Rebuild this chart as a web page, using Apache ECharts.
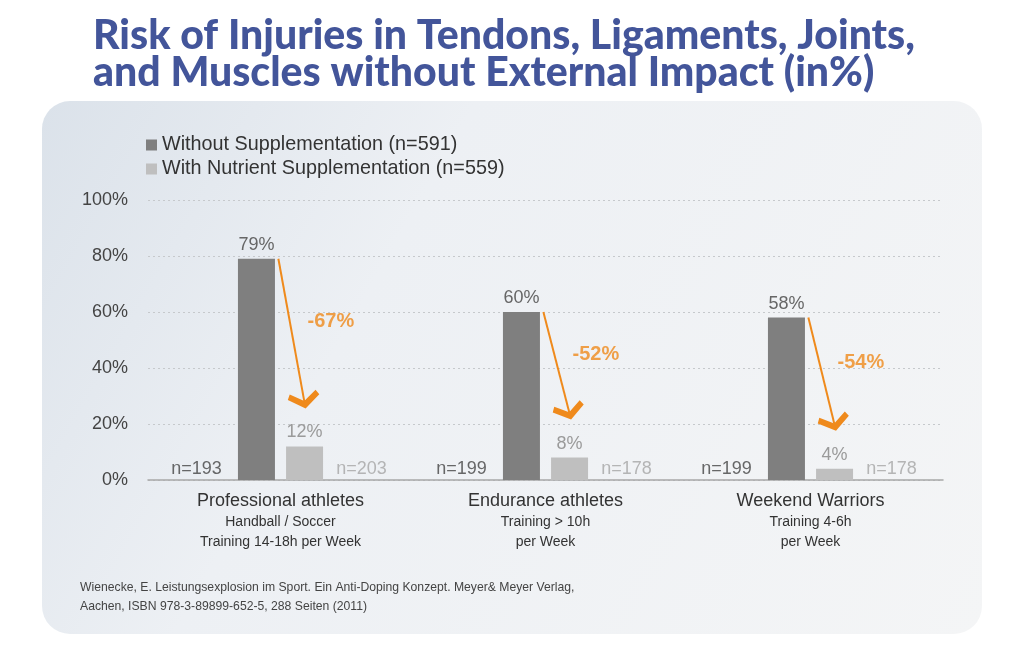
<!DOCTYPE html>
<html>
<head>
<meta charset="utf-8">
<script src="https://cdn.jsdelivr.net/npm/echarts@6/dist/echarts.min.js"></script>
<style>html,body{margin:0;padding:0;background:#fff}#c{width:1024px;height:648px}</style>
</head>
<body>
<div id="c"></div>
<script>
const categories = ['Professional athletes', 'Endurance athletes', 'Weekend Warriors'];
const subtitles = [['Handball / Soccer', 'Training 14-18h per Week'], ['Training > 10h', 'per Week'], ['Training 4-6h', 'per Week']];
const seriesNames = ['Without Supplementation (n=591)', 'With Nutrient Supplementation (n=559)'];
const withoutValues = [79, 60, 58];
const withValues = [12, 8, 4];
const nWithout = [193, 199, 199];
const nWith = [203, 178, 178];
const changes = [-67, -52, -54];
const yTicks = [0, 20, 40, 60, 80, 100];

const ORANGE = '#ef8a1c';
const chevron = 'path://M0,0 L0.01,0 M100,100 L100,100.01 M50,28 L100,64 L91,80 L50,52 L9,80 L0,64 Z';

const arrowData = categories.map((c, i) => ({
  coords: [[i + 0.5 - 0.008, withoutValues[i]], [i + 0.5 + 0.09, withValues[i] + 16]]
}));
const changeData = categories.map((c, i) => [i + 0.5 + 0.19, (withoutValues[i] + withValues[i] + 14) / 2 + 4, changes[i]]);
const nLeftData = categories.map((c, i) => [i + 0.5 - 0.317, 0, nWithout[i]]);
const nRightData = categories.map((c, i) => [i + 0.5 + 0.306, 0, nWith[i]]);

const chart = echarts.init(document.getElementById('c'));
chart.setOption({
  animation: false,
  textStyle: { fontFamily: 'Liberation Sans, Arial, sans-serif' },
  graphic: [{
    type: 'rect', z: -10, silent: true,
    shape: { x: 42, y: 101, width: 940, height: 533, r: 28 },
    style: {
      fill: new echarts.graphic.LinearGradient(0, 0, 1, 1, [
        { offset: 0, color: '#dbe2ea' },
        { offset: 0.35, color: '#edf0f4' },
        { offset: 1, color: '#f4f5f6' }
      ])
    }
  }],
  title: [{
    text: 'Risk of Injuries in Tendons, Ligaments, Joints,\nand Muscles without External Impact (in%)',
    left: 88, top: 12,
    textStyle: { fontFamily: 'Lato', fontWeight: 900, fontSize: 41, lineHeight: 37, color: '#43559a' }
  }, {
    text: 'Wienecke, E. Leistungsexplosion im Sport. Ein Anti-Doping Konzept. Meyer& Meyer Verlag,\nAachen, ISBN 978-3-89899-652-5, 288 Seiten (2011)',
    left: 75, top: 573,
    textStyle: { fontFamily: 'Liberation Sans', fontWeight: 'normal', fontSize: 12.2, lineHeight: 19, color: '#444' }
  }],
  legend: {
    orient: 'vertical', left: 141, top: 130, itemWidth: 11, itemHeight: 11, itemGap: 4,
    icon: 'rect',
    textStyle: { fontSize: 19.8, lineHeight: 20, color: '#333' },
    data: seriesNames
  },
  grid: { left: 148, right: 81, top: 200, bottom: 168, containLabel: false },
  xAxis: [{
    type: 'category', data: categories,
    axisTick: { show: false },
    axisLine: { lineStyle: { color: '#a8a8a8', width: 1.5 } },
    axisLabel: {
      margin: 10,
      formatter: (v, i) => `{a|${v}}\n` + subtitles[i].map(s => `{b|${s}}`).join('\n'),
      rich: {
        a: { fontSize: 18, lineHeight: 22, color: '#333' },
        b: { fontSize: 14, lineHeight: 20, color: '#333' }
      }
    }
  }, {
    type: 'value', min: 0, max: 3, show: false
  }],
  yAxis: {
    type: 'value', min: 0, max: 100, interval: 20,
    axisLabel: { formatter: '{value}%', fontSize: 18, color: '#444', margin: 20 },
    axisLine: { show: false }, axisTick: { show: false },
    splitLine: { lineStyle: { type: [2, 3], color: '#c6c9cc', width: 1 } }
  },
  series: [{
    name: seriesNames[0], type: 'bar', data: withoutValues, barWidth: 37, barGap: '30%',
    itemStyle: { color: '#7f7f7f' },
    label: { show: true, position: 'top', distance: 5, formatter: '{c}%', fontSize: 18, color: '#666' }
  }, {
    name: seriesNames[1], type: 'bar', data: withValues, barWidth: 37,
    itemStyle: { color: '#bfbfbf' },
    label: { show: true, position: 'top', distance: 5, formatter: '{c}%', fontSize: 18, color: '#9a9a9a' }
  }, {
    type: 'lines', coordinateSystem: 'cartesian2d', xAxisIndex: 1, yAxisIndex: 0,
    symbol: ['none', chevron], symbolSize: 32,
    lineStyle: { color: ORANGE, width: 2, opacity: 1 },
    data: arrowData, z: 5
  }, {
    type: 'scatter', xAxisIndex: 1, yAxisIndex: 0, symbolSize: 1,
    itemStyle: { color: 'rgba(0,0,0,0)' },
    label: { show: true, position: 'inside', formatter: p => p.value[2] + '%', fontSize: 20, fontWeight: 'bold', color: ORANGE },
    data: changeData, z: 6
  }, {
    type: 'scatter', xAxisIndex: 1, yAxisIndex: 0, symbolSize: 1,
    itemStyle: { color: 'rgba(0,0,0,0)' },
    label: { show: true, position: 'inside', offset: [0, -11], formatter: p => 'n=' + p.value[2], fontSize: 18, color: '#444' },
    data: nLeftData
  }, {
    type: 'scatter', xAxisIndex: 1, yAxisIndex: 0, symbolSize: 1,
    itemStyle: { color: 'rgba(0,0,0,0)' },
    label: { show: true, position: 'inside', offset: [0, -11], formatter: p => 'n=' + p.value[2], fontSize: 18, color: '#a5a5a5' },
    data: nRightData
  }]
});
</script>
</body>
</html>
